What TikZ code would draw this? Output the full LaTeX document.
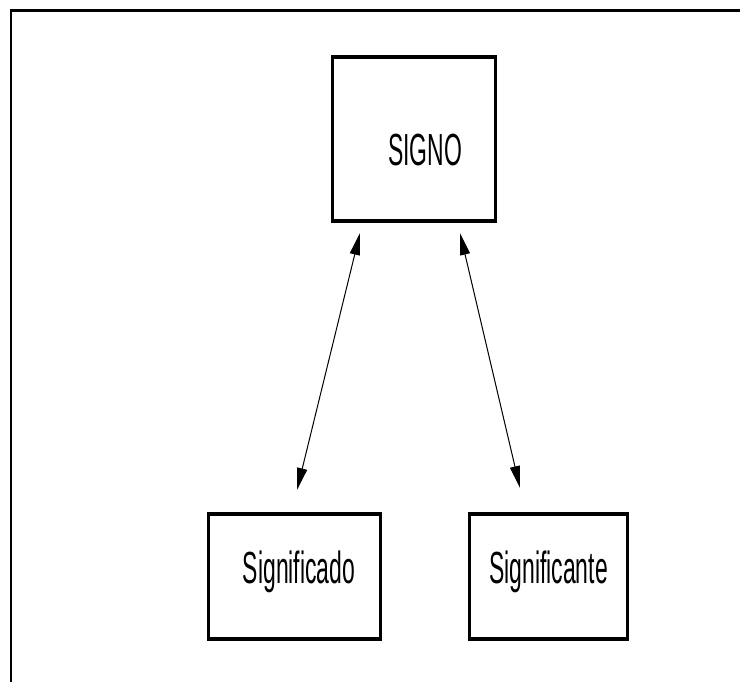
\documentclass[tikz,border=0pt]{standalone}
\usepackage{fontspec}
\usepackage{tikz}
\usetikzlibrary{arrows.meta}
\newfontfamily\narrowsans[FakeStretch=0.51]{Liberation Sans}

\begin{document}
\begin{tikzpicture}[x=1pt,y=-1pt]
	\tikzstyle{frame}=[line width=2.5pt]
	\tikzstyle{box}=[rectangle,draw,line width=2.5pt,inner sep=0pt,font=\narrowsans\fontsize{45}{54}\selectfont]
	\tikzstyle{rim}=[line width=4pt]
	\tikzstyle{link}=[line width=1pt,{Triangle[length=22pt,width=10pt]}-{Triangle[length=22pt,width=10pt]}]
	\path [fill=white,use as bounding box] (0,0) rectangle (740,682);
	\draw [frame] (11,682) -- (11,10.5) -- (740,10.5);
	\node (signo) at (414,139) [box,minimum width=163pt,minimum height=162pt,text height=60pt,text depth=6pt] {\hspace*{22pt}SIGNO};
	\node (significado) at (294.5,576.5) [box,minimum width=172pt,minimum height=123pt,text height=22pt,text depth=9pt] {\hspace*{9pt}Significado};
	\node (significante) at (548.5,576.5) [box,minimum width=158pt,minimum height=123pt,text height=22pt,text depth=9pt] {Significante};
	% thicker top and bottom edges
	\draw [rim] (signo.north west) -- (signo.north east) (signo.south west) -- (signo.south east);
	\draw [rim] (significado.north west) -- (significado.north east) (significado.south west) -- (significado.south east);
	\draw [rim] (significante.north west) -- (significante.north east) (significante.south west) -- (significante.south east);
	\coordinate (signo left) at (360,233);
	\coordinate (signo right) at (460,233);
	\coordinate (significado top) at (297,490);
	\coordinate (significante top) at (520,488);
	\draw [link] (signo left) -- (significado top);
	\draw [link] (signo right) -- (significante top);
\end{tikzpicture}
\end{document}
